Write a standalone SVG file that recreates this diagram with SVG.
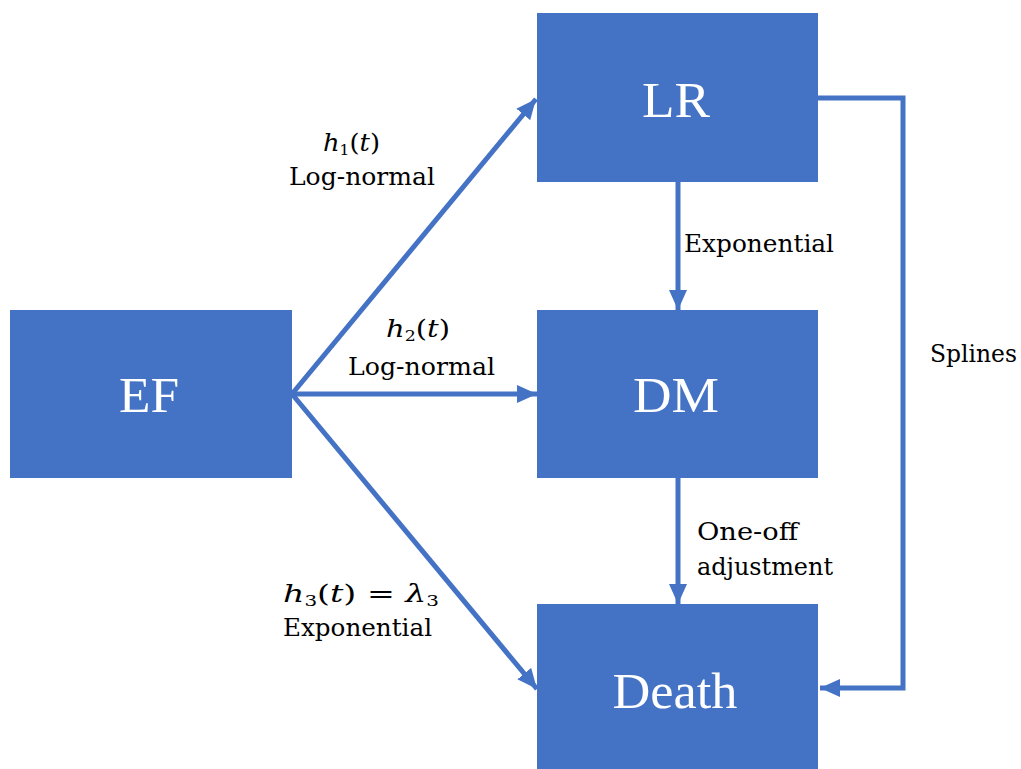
<svg xmlns="http://www.w3.org/2000/svg" width="1021" height="769" viewBox="0 0 1021 769">
<style>
.box{fill:#4472C4;}
.bt{font-family:"Liberation Serif","Times New Roman",serif;font-size:50px;fill:#ffffff;text-anchor:middle;}
.lbl{font-family:"DejaVu Serif","Liberation Serif",serif;font-size:25px;fill:#000000;}
.conn{stroke:#4472C4;stroke-width:5;fill:none;}
.it{font-style:italic;}
</style>
<defs>
<marker id="ah" markerUnits="userSpaceOnUse" markerWidth="22" markerHeight="18" refX="20" refY="9" orient="auto">
<path d="M0,0 L20,9 L0,18 z" fill="#4472C4"/>
</marker>
</defs>
<rect width="1021" height="769" fill="#ffffff"/>
<g id="connectors">
<line class="conn" x1="292" y1="394" x2="536" y2="99" marker-end="url(#ah)"/>
<line class="conn" x1="292" y1="394" x2="537" y2="394" marker-end="url(#ah)"/>
<line class="conn" x1="292" y1="394" x2="537" y2="689" marker-end="url(#ah)"/>
<line class="conn" x1="678" y1="182" x2="678" y2="310" marker-end="url(#ah)"/>
<line class="conn" x1="678" y1="478" x2="678" y2="604" marker-end="url(#ah)"/>
<polyline class="conn" points="818,98 903,98 903,688 820,688" marker-end="url(#ah)"/>
</g>
<g id="node-EF"><rect class="box" x="10" y="310" width="282" height="168"/><text class="bt" x="149" y="412" textLength="60" lengthAdjust="spacingAndGlyphs">EF</text></g>
<g id="node-LR"><rect class="box" x="537" y="13" width="281" height="169"/><text class="bt" x="676" y="117" textLength="68" lengthAdjust="spacingAndGlyphs">LR</text></g>
<g id="node-DM"><rect class="box" x="537" y="310" width="281" height="168"/><text class="bt" x="676" y="412" textLength="86" lengthAdjust="spacingAndGlyphs">DM</text></g>
<g id="node-Death"><rect class="box" x="537" y="604" width="281" height="170"/><text class="bt" x="675" y="708" textLength="125" lengthAdjust="spacingAndGlyphs">Death</text></g>
<g id="labels">
<text class="lbl" x="323" y="151" textLength="57" lengthAdjust="spacingAndGlyphs"><tspan class="it">h</tspan><tspan font-size="15" dy="4">1</tspan><tspan dy="-4">(</tspan><tspan class="it">t</tspan>)</text>
<text class="lbl" x="289" y="185" textLength="146" lengthAdjust="spacingAndGlyphs">Log-normal</text>
<text class="lbl" x="386" y="337" textLength="64" lengthAdjust="spacingAndGlyphs"><tspan class="it">h</tspan><tspan font-size="15" dy="4">2</tspan><tspan dy="-4">(</tspan><tspan class="it">t</tspan>)</text>
<text class="lbl" x="348" y="375" textLength="147" lengthAdjust="spacingAndGlyphs">Log-normal</text>
<text class="lbl" x="283" y="602" textLength="156" lengthAdjust="spacingAndGlyphs"><tspan class="it">h</tspan><tspan font-size="15" dy="4">3</tspan><tspan dy="-4">(</tspan><tspan class="it">t</tspan>) = <tspan class="it">λ</tspan><tspan font-size="15" dy="4">3</tspan></text>
<text class="lbl" x="283" y="636" textLength="149" lengthAdjust="spacingAndGlyphs">Exponential</text>
<text class="lbl" x="684" y="252" textLength="150" lengthAdjust="spacingAndGlyphs">Exponential</text>
<text class="lbl" x="697" y="540" textLength="101" lengthAdjust="spacingAndGlyphs">One-off</text>
<text class="lbl" x="697" y="575" textLength="136" lengthAdjust="spacingAndGlyphs">adjustment</text>
<text class="lbl" x="930" y="362" textLength="87" lengthAdjust="spacingAndGlyphs">Splines</text>
</g>
</svg>
